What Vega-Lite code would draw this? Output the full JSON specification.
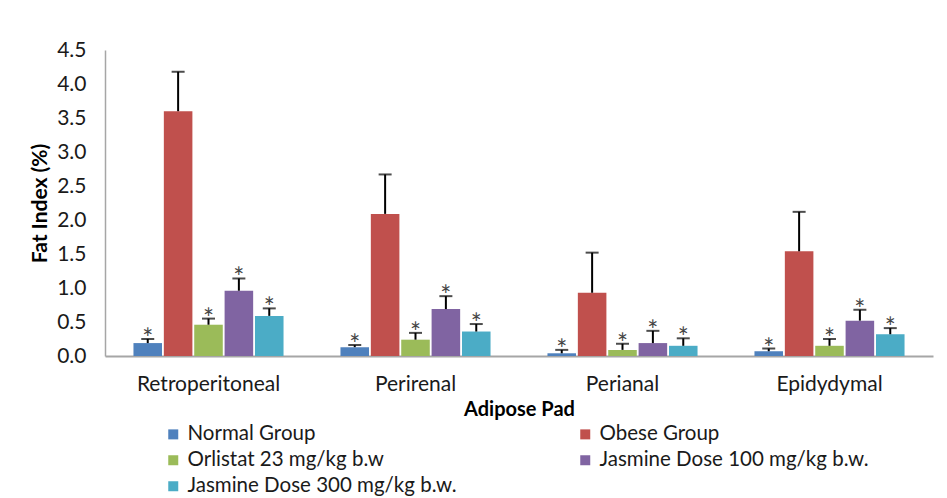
{
  "$schema": "https://vega.github.io/schema/vega-lite/v6.json",
  "width": 828,
  "height": 306,
  "autosize": "none",
  "padding": {"left": 105, "top": 50, "right": 14, "bottom": 142},
  "background": "white",
  "config": {
    "font": "Lato",
    "view": {"stroke": null},
    "axis": {"labelColor": "#1a1a1a", "titleColor": "#000000"}
  },
  "data": {
    "values": [
      {"pad": "Retroperitoneal", "group": "Normal Group", "value": 0.19, "upper": 0.25, "star": "*"},
      {"pad": "Retroperitoneal", "group": "Obese Group", "value": 3.6, "upper": 4.18, "star": ""},
      {"pad": "Retroperitoneal", "group": "Orlistat 23 mg/kg b.w", "value": 0.46, "upper": 0.55, "star": "*"},
      {"pad": "Retroperitoneal", "group": "Jasmine Dose 100 mg/kg b.w.", "value": 0.96, "upper": 1.14, "star": "*"},
      {"pad": "Retroperitoneal", "group": "Jasmine Dose 300 mg/kg b.w.", "value": 0.59, "upper": 0.7, "star": "*"},
      {"pad": "Perirenal", "group": "Normal Group", "value": 0.13, "upper": 0.16, "star": "*"},
      {"pad": "Perirenal", "group": "Obese Group", "value": 2.09, "upper": 2.67, "star": ""},
      {"pad": "Perirenal", "group": "Orlistat 23 mg/kg b.w", "value": 0.24, "upper": 0.34, "star": "*"},
      {"pad": "Perirenal", "group": "Jasmine Dose 100 mg/kg b.w.", "value": 0.69, "upper": 0.88, "star": "*"},
      {"pad": "Perirenal", "group": "Jasmine Dose 300 mg/kg b.w.", "value": 0.36, "upper": 0.47, "star": "*"},
      {"pad": "Perianal", "group": "Normal Group", "value": 0.04, "upper": 0.09, "star": "*"},
      {"pad": "Perianal", "group": "Obese Group", "value": 0.93, "upper": 1.52, "star": ""},
      {"pad": "Perianal", "group": "Orlistat 23 mg/kg b.w", "value": 0.09, "upper": 0.18, "star": "*"},
      {"pad": "Perianal", "group": "Jasmine Dose 100 mg/kg b.w.", "value": 0.19, "upper": 0.37, "star": "*"},
      {"pad": "Perianal", "group": "Jasmine Dose 300 mg/kg b.w.", "value": 0.15, "upper": 0.26, "star": "*"},
      {"pad": "Epidydymal", "group": "Normal Group", "value": 0.07, "upper": 0.11, "star": "*"},
      {"pad": "Epidydymal", "group": "Obese Group", "value": 1.54, "upper": 2.12, "star": ""},
      {"pad": "Epidydymal", "group": "Orlistat 23 mg/kg b.w", "value": 0.15, "upper": 0.25, "star": "*"},
      {"pad": "Epidydymal", "group": "Jasmine Dose 100 mg/kg b.w.", "value": 0.52, "upper": 0.68, "star": "*"},
      {"pad": "Epidydymal", "group": "Jasmine Dose 300 mg/kg b.w.", "value": 0.32, "upper": 0.41, "star": "*"}
    ]
  },
  "encoding": {
    "x": {
      "field": "pad", "type": "nominal",
      "sort": ["Retroperitoneal", "Perirenal", "Perianal", "Epidydymal"],
      "scale": {"paddingInner": 0.275, "paddingOuter": 0.1375},
      "axis": {
        "title": "Adipose Pad", "labelAngle": 0, "labelFontSize": 21, "labelPadding": 17,
        "ticks": false, "domainColor": "#A6A6A6", "domainWidth": 2,
        "titleFontSize": 20, "titleFontWeight": "bold", "titlePadding": 5
      }
    },
    "xOffset": {
      "field": "group", "type": "nominal",
      "sort": ["Normal Group", "Obese Group", "Orlistat 23 mg/kg b.w", "Jasmine Dose 100 mg/kg b.w.", "Jasmine Dose 300 mg/kg b.w."],
      "scale": {"paddingInner": 0.06}
    }
  },
  "layer": [
    {
      "mark": {"type": "bar"},
      "encoding": {
        "y": {
          "field": "value", "type": "quantitative",
          "scale": {"domain": [0, 4.5], "nice": false},
          "axis": {
            "title": "Fat Index (%)", "values": [0, 0.5, 1, 1.5, 2, 2.5, 3, 3.5, 4, 4.5],
            "format": ".1f", "grid": false, "ticks": false, "labelPadding": 19,
            "labelOverlap": false, "labelFlush": false,
            "labelFontSize": 21, "domainColor": "#A6A6A6", "domainWidth": 1.5,
            "titleFontSize": 21, "titleFontWeight": "bold", "titlePadding": 6
          }
        },
        "color": {
          "field": "group", "type": "nominal",
          "sort": ["Normal Group", "Obese Group", "Orlistat 23 mg/kg b.w", "Jasmine Dose 100 mg/kg b.w.", "Jasmine Dose 300 mg/kg b.w."],
          "scale": {
            "domain": ["Normal Group", "Obese Group", "Orlistat 23 mg/kg b.w", "Jasmine Dose 100 mg/kg b.w.", "Jasmine Dose 300 mg/kg b.w."],
            "range": ["#4F81BD", "#C0504D", "#9BBB59", "#8064A2", "#4BACC6"]
          },
          "legend": {
            "title": null, "orient": "none", "legendX": 58, "legendY": 374,
            "direction": "horizontal", "columns": 2, "gridAlign": "all",
            "columnPadding": 118, "rowPadding": 5, "symbolType": "square", "symbolSize": 100,
            "symbolStrokeWidth": 0, "labelFontSize": 20.5, "labelColor": "#1a1a1a", "labelLimit": 400
          }
        }
      }
    },
    {
      "mark": {"type": "rule", "color": "#000000", "strokeWidth": 2},
      "encoding": {
        "y": {
          "field": "value", "type": "quantitative",
          "scale": {"domain": [0, 4.5], "nice": false},
          "axis": {
            "title": "Fat Index (%)", "values": [0, 0.5, 1, 1.5, 2, 2.5, 3, 3.5, 4, 4.5],
            "format": ".1f", "grid": false, "ticks": false, "labelPadding": 19,
            "labelOverlap": false, "labelFlush": false,
            "labelFontSize": 21, "domainColor": "#A6A6A6", "domainWidth": 1.5,
            "titleFontSize": 21, "titleFontWeight": "bold", "titlePadding": 6
          }
        },
        "y2": {"field": "upper"}
      }
    },
    {
      "mark": {"type": "tick", "color": "#000000", "thickness": 2, "size": 13, "orient": "horizontal"},
      "encoding": {
        "y": {
          "field": "upper", "type": "quantitative",
          "scale": {"domain": [0, 4.5], "nice": false},
          "axis": {
            "title": "Fat Index (%)", "values": [0, 0.5, 1, 1.5, 2, 2.5, 3, 3.5, 4, 4.5],
            "format": ".1f", "grid": false, "ticks": false, "labelPadding": 19,
            "labelOverlap": false, "labelFlush": false,
            "labelFontSize": 21, "domainColor": "#A6A6A6", "domainWidth": 1.5,
            "titleFontSize": 21, "titleFontWeight": "bold", "titlePadding": 6
          }
        }
      }
    },
    {
      "mark": {"type": "text", "fontSize": 26, "fill": "#444444", "baseline": "alphabetic", "dy": 9},
      "encoding": {
        "y": {
          "field": "upper", "type": "quantitative",
          "scale": {"domain": [0, 4.5], "nice": false},
          "axis": {
            "title": "Fat Index (%)", "values": [0, 0.5, 1, 1.5, 2, 2.5, 3, 3.5, 4, 4.5],
            "format": ".1f", "grid": false, "ticks": false, "labelPadding": 19,
            "labelOverlap": false, "labelFlush": false,
            "labelFontSize": 21, "domainColor": "#A6A6A6", "domainWidth": 1.5,
            "titleFontSize": 21, "titleFontWeight": "bold", "titlePadding": 6
          }
        },
        "text": {"field": "star"}
      }
    }
  ]
}
